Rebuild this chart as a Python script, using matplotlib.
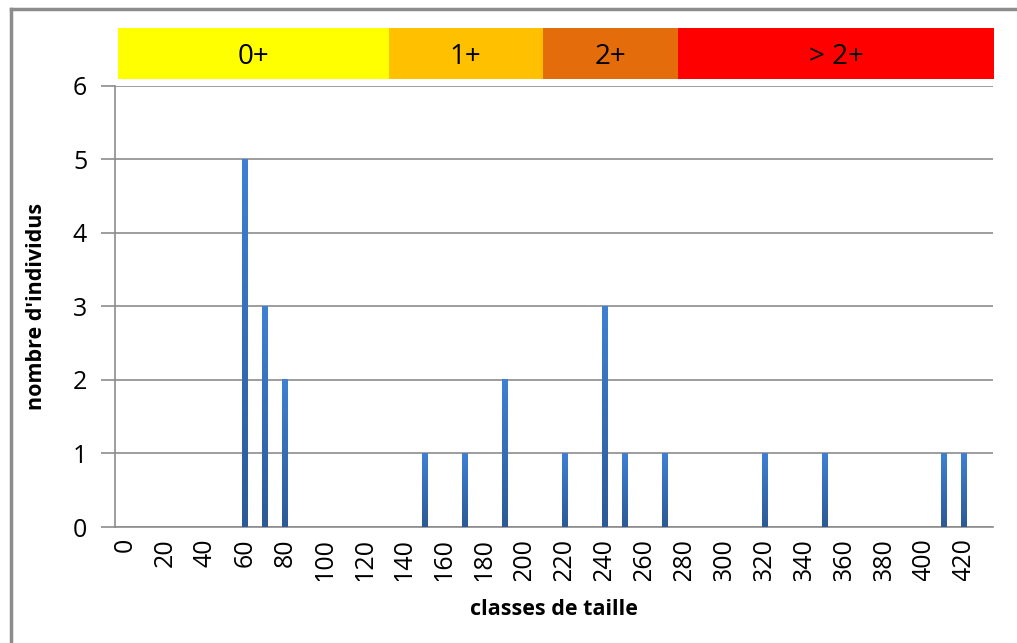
import matplotlib.pyplot as plt
import numpy as np
from matplotlib.colors import LinearSegmentedColormap
from matplotlib.lines import Line2D
from matplotlib.transforms import Bbox, TransformedBbox

# size classes (mm) and counts
classes = list(range(0, 440, 10))
counts = {60: 5, 70: 3, 80: 2, 150: 1, 170: 1, 190: 2, 220: 1,
          240: 3, 250: 1, 270: 1, 320: 1, 350: 1, 410: 1, 420: 1}
values = [counts.get(c, 0) for c in classes]
tick_labels = [str(c) if c % 20 == 0 else "" for c in classes]

# age bands drawn above the plot
age_labels = ["0+", "1+", "2+", "> 2+"]
age_edges = [-3.5, 132, 209, 277, 435]
age_colors = ["#ffff00", "#ffc000", "#e46c0a", "#ff0000"]

plt.rcParams["font.family"] = "Open Sans"

fig = plt.figure(figsize=(10.17, 6.43), dpi=100)
ax = fig.add_axes([0.1131, 0.1804, 0.8633, 0.6859])

grad = LinearSegmentedColormap.from_list("bar", ["#2c5a97", "#3f80d3"])
x = np.arange(len(classes))
w = 0.26
for xi, v in zip(x, values):
    if v > 0:
        ax.imshow(np.linspace(0, 1, 64).reshape(-1, 1)[::-1], cmap=grad,
                  extent=[xi - w / 2, xi + w / 2, 0, v], aspect="auto",
                  zorder=3)

ax.set_xlim(-0.5, len(classes) - 0.55)
ax.set_ylim(0, 6)
ax.set_yticks(range(7))
ax.yaxis.grid(True, color="#8c8c8c", linewidth=1.2)
ax.set_axisbelow(True)
for s in ["top", "right"]:
    ax.spines[s].set_visible(False)
for s in ["left", "bottom"]:
    ax.spines[s].set_color("#8c8c8c")
    ax.spines[s].set_linewidth(1.2)

ax.set_xticks(x)
ax.set_xticklabels(tick_labels)
ax.tick_params(axis="x", length=0, pad=8)
ax.tick_params(axis="y", length=10, color="#8c8c8c", width=1.2, pad=10)

fig.canvas.draw()
# long tick labels are cut off at the bottom, as in the original
clip = TransformedBbox(Bbox([[0, 0.097], [1, 1]]), fig.transFigure)
for t in ax.xaxis.get_major_ticks():
    t.label1.set_fontsize(18)
    t.label1.set_rotation(90)
    t.label1.set_clip_on(True)
    t.label1.set_clip_box(clip)
for t in ax.yaxis.get_major_ticks():
    t.label1.set_fontsize(18)

ax.set_xlabel("classes de taille", fontsize=15.5, fontweight="bold")
ax.xaxis.set_label_coords(0.5, -0.163)
ax.set_ylabel("nombre d'individus", fontsize=15.5, fontweight="bold")
ax.yaxis.set_label_coords(-0.078, 0.5)

# age band
trans = ax.get_xaxis_transform()
for lab, c, a, b in zip(age_labels, age_colors, age_edges[:-1], age_edges[1:]):
    x0 = a / 10
    x1 = b / 10
    ax.add_patch(plt.Rectangle((x0, 1.016), x1 - x0, 0.1156, transform=trans,
                               facecolor=c, edgecolor="none", clip_on=False))
    ax.text((x0 + x1) / 2, 1.066, lab, transform=trans, ha="center",
            va="center", fontsize=20)

# chart frame (partly visible)
fig.add_artist(Line2D([0.0105, 0.0105], [0, 0.986], color="#8c8c8c", lw=2.5))
fig.add_artist(Line2D([0.0105, 1], [0.986, 0.986], color="#8c8c8c", lw=2.5))

fig.savefig("out.png", dpi=100)
